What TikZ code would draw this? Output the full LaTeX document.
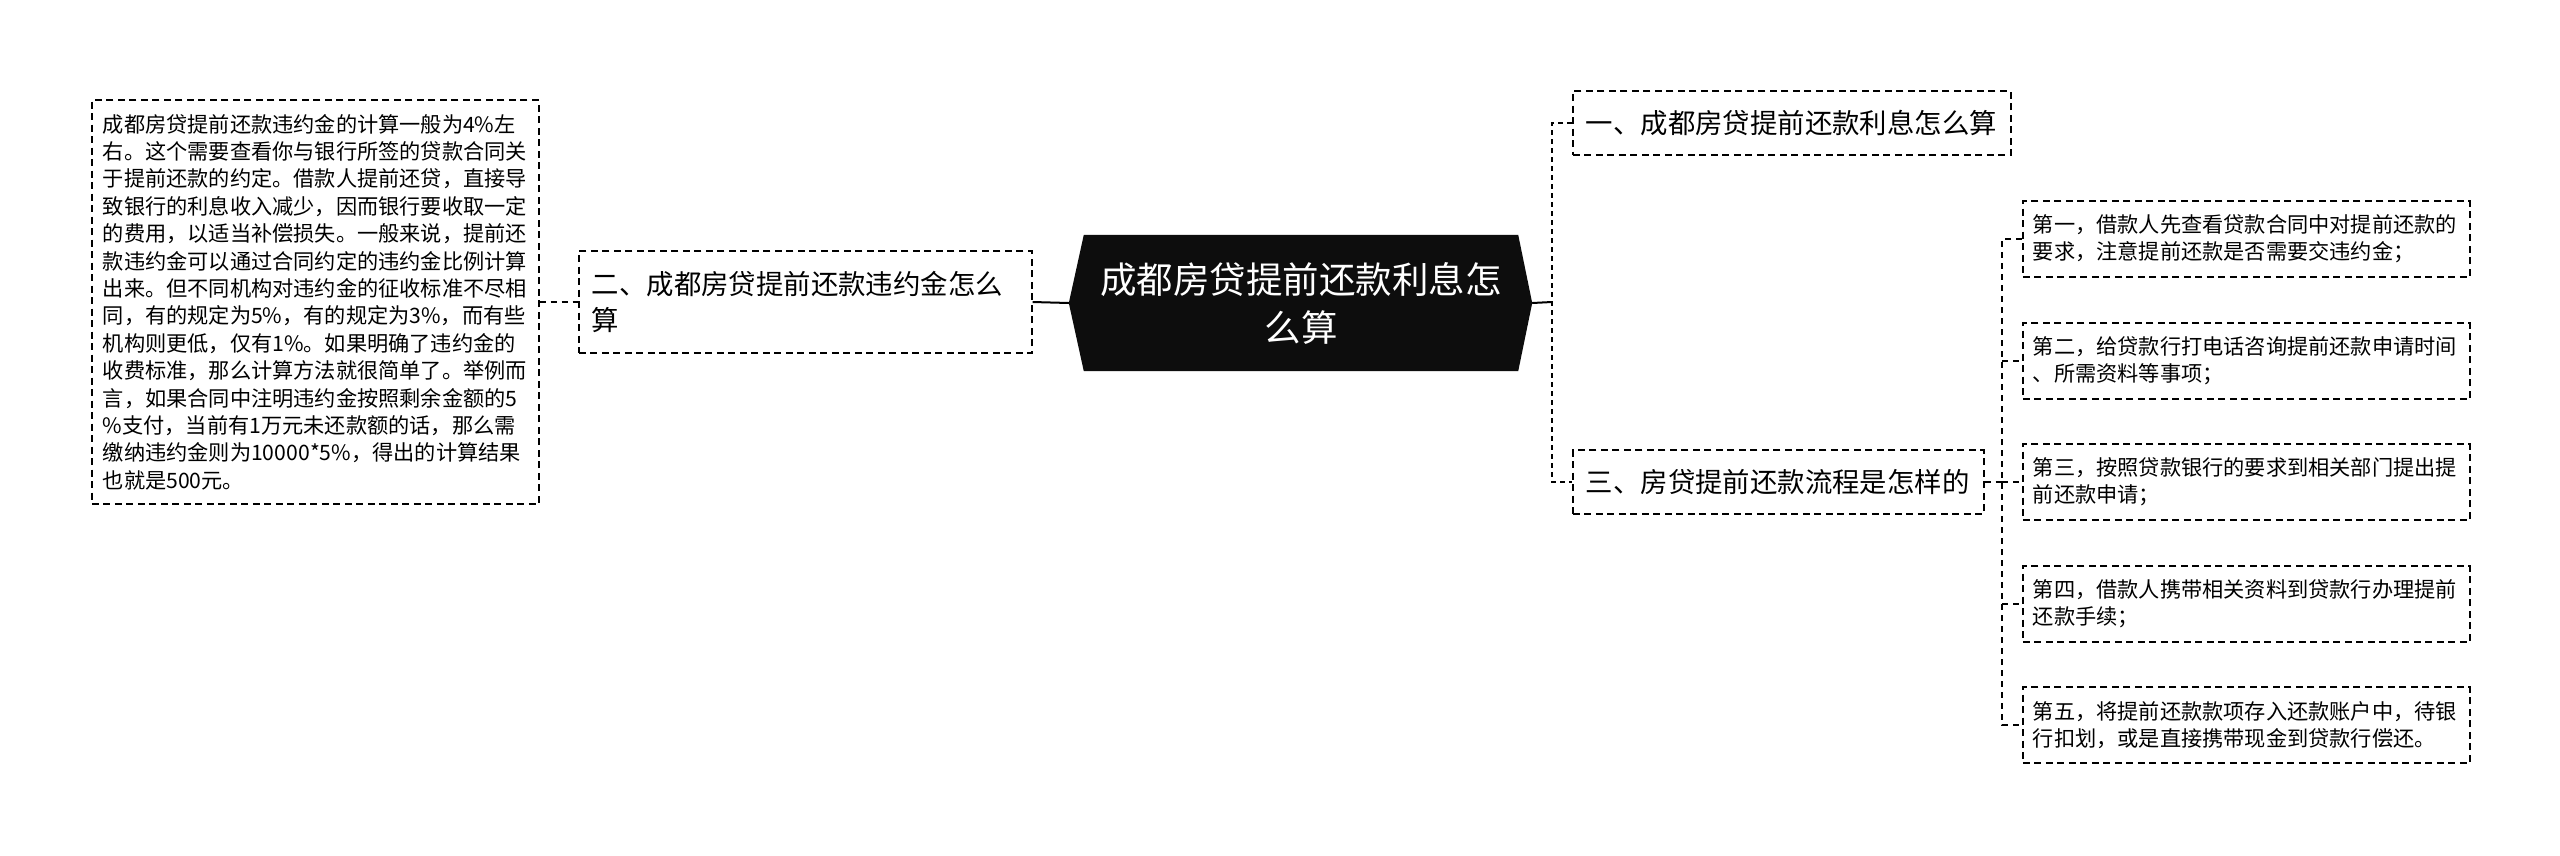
\documentclass[tikz,border=0pt]{standalone}
\usepackage{fontspec}
\setmainfont{Noto Sans CJK SC}
\usetikzlibrary{backgrounds,calc}
\begin{document}
\begin{tikzpicture}[x=1pt,y=-1pt,
  bx/.style={draw=black, line width=1.6pt, dash pattern=on 7pt off 4.5pt, align=left, anchor=west, inner ysep=0pt, text=black},
  smalltxt/.style={font=\fontsize{21.2}{27.4}\selectfont},
  midtxt/.style={font=\fontsize{27.4}{36}\selectfont},
  solidcon/.style={draw=black, line width=2pt},
  bigdash/.style={draw=black, line width=2.6pt, dash pattern=on 5pt off 4pt},
  smalldash/.style={draw=black, line width=1.5pt, dash pattern=on 6pt off 5pt},
  maintxt/.style={font=\fontsize{36.5}{48}\selectfont, text=white, align=center, inner sep=0pt}]
\useasboundingbox (0,0) rectangle (2560,855);

% main node
\node[maintxt, minimum width=434, minimum height=136] (m) at (1301,303) {成都房贷提前还款利息怎\\么算};
\coordinate (mL) at ($(m.west)+(-15,0)$);
\coordinate (mR) at ($(m.east)+(14,0)$);
\begin{pgfonlayer}{background}
\fill[white] (0,0) rectangle (2560,855);
\fill[black!95] (m.north west) -- (m.north east) -- (mR) -- (m.south east) -- (m.south west) -- (mL) -- cycle;
\end{pgfonlayer}

% left side
\node[bx, midtxt, text width=427, inner xsep=13, minimum height=102] (b2) at (578,302)
  {二、成都房贷提前还款违约金怎么\\算};
\node[bx, smalltxt, text width=425, inner xsep=11, minimum height=404] (lt) at (91,302)
  {成都房贷提前还款违约金的计算一般为4\%左\\
   右。这个需要查看你与银行所签的贷款合同关\\
   于提前还款的约定。借款人提前还贷，直接导\\
   致银行的利息收入减少，因而银行要收取一定\\
   的费用，以适当补偿损失。一般来说，提前还\\
   款违约金可以通过合同约定的违约金比例计算\\
   出来。但不同机构对违约金的征收标准不尽相\\
   同，有的规定为5\%，有的规定为3\%，而有些\\
   机构则更低，仅有1\%。如果明确了违约金的\\
   收费标准，那么计算方法就很简单了。举例而\\
   言，如果合同中注明违约金按照剩余金额的5\\
   \%支付，当前有1万元未还款额的话，那么需\\
   缴纳违约金则为10000*5\%，得出的计算结果\\
   也就是500元。};

% right side level 1
\node[bx, midtxt, text width=412, inner xsep=13, minimum height=64] (b1) at (1572,123)
  {一、成都房贷提前还款利息怎么算};
\node[bx, midtxt, text width=385, inner xsep=13, minimum height=64] (b3) at (1572,482)
  {三、房贷提前还款流程是怎样的};

% children
\node[bx, smalltxt, text width=427, inner xsep=10, minimum height=76] (c1) at (2022,239)
  {第一，借款人先查看贷款合同中对提前还款的\\要求，注意提前还款是否需要交违约金；};
\node[bx, smalltxt, text width=427, inner xsep=10, minimum height=76] (c2) at (2022,361)
  {第二，给贷款行打电话咨询提前还款申请时间\\、所需资料等事项；};
\node[bx, smalltxt, text width=427, inner xsep=10, minimum height=76] (c3) at (2022,482)
  {第三，按照贷款银行的要求到相关部门提出提\\前还款申请；};
\node[bx, smalltxt, text width=427, inner xsep=10, minimum height=76] (c4) at (2022,604)
  {第四，借款人携带相关资料到贷款行办理提前\\还款手续；};
\node[bx, smalltxt, text width=427, inner xsep=10, minimum height=76] (c5) at (2022,725)
  {第五，将提前还款款项存入还款账户中，待银\\行扣划，或是直接携带现金到贷款行偿还。};

% connectors
\draw[solidcon] (b2.east) -- (mL);
\draw[smalldash] (lt.east) -- (b2.west);

\coordinate (j1) at (1552,302);
\draw[solidcon] (mR) -- (j1);
\draw[bigdash] (b1.west) -- (b1.west -| j1) -- (b3.west -| j1) -- (b3.west);

\coordinate (j2) at (2002,482);
\draw[smalldash] (b3.east) -- (j2);
\draw[smalldash] (c1.west) -- (c1.west -| j2) -- (c5.west -| j2) -- (c5.west);
\draw[smalldash] (c2.west -| j2) -- (c2.west);
\draw[smalldash] (c3.west -| j2) -- (c3.west);
\draw[smalldash] (c4.west -| j2) -- (c4.west);
\end{tikzpicture}
\end{document}
